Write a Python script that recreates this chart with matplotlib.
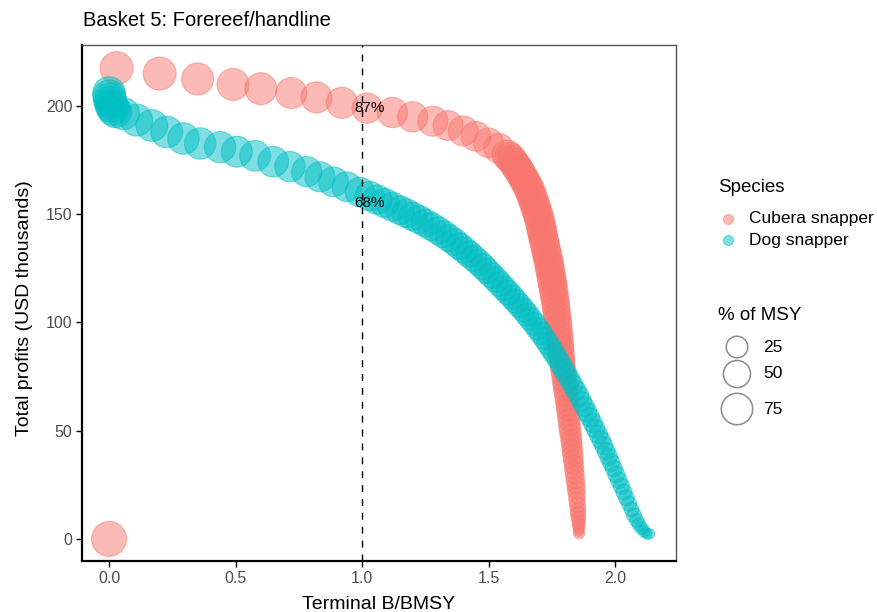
import matplotlib
matplotlib.use("Agg")
import matplotlib.pyplot as plt
import numpy as np

plt.rcParams['font.family'] = ['Liberation Sans', 'DejaVu Sans']

# Cubera snapper: terminal B/BMSY, total profits (USD thousands), % of MSY
cubera_b = [
    0.000, 0.030, 0.200, 0.350, 0.490, 0.600, 0.720, 0.820, 0.920, 1.020,
    1.120, 1.200, 1.280, 1.340, 1.400, 1.450, 1.500, 1.540,
    1.573, 1.583, 1.593, 1.601, 1.609, 1.617, 1.625, 1.632, 1.640, 1.648,
    1.656, 1.662, 1.668, 1.674, 1.680, 1.685, 1.690,
    1.695, 1.700, 1.704, 1.708, 1.712, 1.715, 1.719, 1.723, 1.727, 1.731,
    1.735, 1.739, 1.742, 1.745, 1.748, 1.751, 1.754, 1.757, 1.760, 1.763,
    1.766, 1.768, 1.771, 1.773, 1.776, 1.778, 1.781, 1.783, 1.785, 1.787,
    1.789, 1.791, 1.793, 1.795, 1.797, 1.799, 1.802, 1.804, 1.807, 1.809,
    1.812, 1.814, 1.816, 1.818, 1.820, 1.822, 1.825, 1.827, 1.829, 1.831,
    1.833, 1.835, 1.837, 1.839, 1.841, 1.843, 1.845, 1.847, 1.849, 1.850,
    1.852, 1.853, 1.854, 1.855, 1.856, 1.856, 1.857, 1.857, 1.858,
]
cubera_profit = [
    0.0, 217.5, 215.0, 212.5, 210.0, 208.0, 206.0, 204.0, 201.5, 199.0,
    197.0, 195.0, 193.0, 191.0, 188.5, 186.0, 183.0, 180.5,
    177.4, 176.3, 175.1, 173.7, 172.3, 170.9, 169.5, 167.9, 166.3, 164.6,
    163.0, 161.2, 159.4, 157.5, 155.7, 153.8, 152.0,
    150.2, 148.3, 146.2, 144.1, 142.0, 140.0, 137.9, 135.8, 133.7, 131.6,
    129.5, 127.5, 125.4, 123.3, 121.2, 119.2, 117.1, 115.0, 112.7, 110.4,
    108.1, 105.8, 103.5, 101.2, 98.9, 96.5, 94.2, 91.9, 89.6, 87.3,
    85.0, 82.7, 80.4, 78.1, 75.8, 73.4, 71.1, 68.8, 66.5, 64.2,
    61.9, 59.6, 57.3, 55.0, 52.7, 50.3, 48.0, 45.7, 43.4, 41.1,
    38.8, 36.5, 34.2, 31.9, 29.6, 27.3, 25.0, 22.6, 20.3, 18.0,
    15.7, 13.4, 11.5, 9.7, 8.1, 6.5, 5.1, 3.7, 2.5,
]
cubera_pct = [
    100, 86, 86, 79, 79, 79, 73, 73, 73, 68,
    68, 68, 67, 66, 66, 65, 65, 65,
    66, 66, 66, 66, 66, 66, 65, 65, 65, 65,
    65, 65, 65, 65, 64, 64, 64,
    64, 64, 63, 63, 62, 62, 61, 61, 60, 60,
    60, 59, 59, 59, 58, 58, 57, 56, 55, 54,
    53, 52, 51, 50, 49, 48, 46, 45, 44, 43,
    41, 40, 39, 38, 36, 35, 34, 33, 32, 31,
    30, 29, 28, 27, 26, 25, 24, 23, 22, 21,
    20, 19, 18, 17, 16, 15, 14, 13, 11, 10,
    9, 8, 7, 5, 4, 3, 2, 1, 1,
]

# Dog snapper
dog_b = [
    0.000, 0.001, 0.003, 0.006, 0.010, 0.016, 0.025,
    0.057, 0.109, 0.169, 0.228, 0.294, 0.360, 0.439, 0.505, 0.577, 0.649,
    0.715, 0.781, 0.834, 0.887, 0.940, 0.992,
    1.030, 1.060, 1.090, 1.120, 1.150, 1.175, 1.200, 1.225, 1.250, 1.275,
    1.300, 1.322, 1.344, 1.366, 1.385, 1.404, 1.423, 1.442, 1.460, 1.478,
    1.495, 1.512, 1.529, 1.545, 1.561, 1.577, 1.593, 1.608, 1.623, 1.638,
    1.652, 1.666, 1.680, 1.694, 1.708, 1.721, 1.734, 1.747, 1.760, 1.773,
    1.785, 1.797, 1.809, 1.821, 1.833, 1.845, 1.857, 1.868, 1.879, 1.890,
    1.901, 1.912, 1.923, 1.934, 1.945, 1.955, 1.965, 1.975, 1.985, 1.995,
    2.005, 2.015, 2.025, 2.035, 2.045, 2.055, 2.065, 2.075, 2.085, 2.095,
    2.105, 2.115, 2.125, 2.135,
]
dog_profit = [
    206.0, 204.5, 203.0, 201.5, 200.0, 198.6, 197.5,
    196.5, 193.5, 191.0, 188.0, 185.0, 182.7, 181.0, 178.9, 177.0, 174.3,
    172.0, 169.7, 167.3, 165.0, 162.7, 160.2,
    158.4, 156.8, 155.2, 153.5, 151.9, 150.5, 149.0, 147.6, 146.0, 144.3,
    142.5, 140.8, 139.0, 137.2, 135.3, 133.5, 131.6, 129.7, 127.8, 125.8,
    123.8, 121.8, 119.8, 117.8, 115.8, 113.8, 111.8, 109.8, 107.8, 105.8,
    103.7, 101.6, 99.4, 97.2, 95.0, 92.7, 90.4, 88.0, 85.6, 83.2,
    80.8, 78.4, 76.0, 73.6, 71.1, 68.6, 66.1, 63.6, 61.1, 58.6,
    56.1, 53.5, 50.9, 48.3, 45.7, 43.1, 40.5, 37.9, 35.2, 32.5,
    29.8, 27.1, 24.4, 21.7, 19.0, 16.3, 13.6, 11.0, 8.6, 6.6,
    5.0, 3.6, 2.5, 2.3,
]
dog_pct = [
    84, 84, 83, 83, 82, 82, 81,
    80, 79, 78, 77, 76, 75, 74, 72, 71, 70,
    69, 68, 67, 66, 65, 64,
    63, 62, 61, 60, 59, 58, 57, 56, 55, 54,
    53, 52, 51, 50, 49, 48, 47, 46, 45, 44,
    43, 42, 41, 40, 39, 38, 37, 36, 35, 34,
    33, 32, 31, 30, 29, 28, 28, 27, 26, 25,
    24, 24, 23, 22, 21, 21, 20, 19, 19, 18,
    17, 17, 16, 15, 15, 14, 13, 13, 12, 11,
    11, 10, 9, 9, 8, 7, 6, 6, 5, 4,
    3, 2, 1, 1,
]

species = ["Cubera snapper", "Dog snapper"]
colors = ["#F8766D", "#00BFC4"]
bmsy_labels = ["87%", "68%"]
bmsy_label_y = [199, 155]
legend_pcts = [25, 50, 75]


def pct_to_area(p):
    # marker diameter in px, then points^2 for scatter
    d = 8 + 27 * np.sqrt(np.asarray(p, dtype=float) / 100.0)
    return (d * 0.72) ** 2


fig = plt.figure(figsize=(8.78, 6.12), dpi=100)
ax = fig.add_axes([82 / 878, 1 - 561 / 612, 594 / 878, 516 / 612])

series = [(cubera_b, cubera_profit, cubera_pct), (dog_b, dog_profit, dog_pct)]
for (b, prof, pct), col in zip(series, colors):
    ax.scatter(b, prof, s=pct_to_area(pct), facecolor=col, edgecolor=col,
               alpha=0.5, linewidths=0.8, zorder=2)

ax.axvline(1.0, color="black", lw=1.0, ls=(0, (5, 5)), zorder=3)
for lab, yy in zip(bmsy_labels, bmsy_label_y):
    ax.text(1.03, yy, lab, ha="center", va="center", fontsize=11, zorder=4)

ax.set_xlim(-0.107, 2.241)
ax.set_ylim(-10.2, 228.2)
ax.set_xticks([0.0, 0.5, 1.0, 1.5, 2.0])
ax.set_xticklabels(["0.0", "0.5", "1.0", "1.5", "2.0"])
ax.set_yticks([0, 50, 100, 150, 200])
ax.tick_params(length=4, width=1.0, colors="black", labelcolor="#4D4D4D",
               labelsize=11.5, pad=3)
for side in ["left", "bottom"]:
    ax.spines[side].set_linewidth(1.6)
    ax.spines[side].set_color("black")
for side in ["top", "right"]:
    ax.spines[side].set_linewidth(1.0)
    ax.spines[side].set_color("#555555")

ax.set_xlabel("Terminal B/BMSY", fontsize=14)
ax.set_ylabel("Total profits (USD thousands)", fontsize=14)
ax.xaxis.set_label_coords(0.5, -0.068)
ax.yaxis.set_label_coords(-0.083, 0.49)

fig.text(83 / 878, 1 - 20 / 612, "Basket 5: Forereef/handline",
         fontsize=14.5, ha="left", va="center")

# legends drawn in pixel space on an overlay
lax = fig.add_axes([0, 0, 1, 1])
lax.set_xlim(0, 878)
lax.set_ylim(612, 0)
lax.axis("off")

lax.text(718, 188, "Species", fontsize=13.5, ha="left", va="center")
for i, (name, col) in enumerate(zip(species, colors)):
    yy = 219 + 21 * i
    lax.scatter([728], [yy], s=(10 * 0.72) ** 2, facecolor=col, edgecolor=col,
                alpha=0.5, linewidths=0.8)
    lax.text(749, yy, name, fontsize=12.5, ha="left", va="center")

lax.text(718, 316, "% of MSY", fontsize=13.5, ha="left", va="center")
for p, yy in zip(legend_pcts, [347, 374, 409]):
    lax.scatter([737], [yy], s=pct_to_area(p), facecolor="none",
                edgecolor="#8C8C8C", linewidths=1.1)
    lax.text(763, yy, str(p), fontsize=12.5, ha="left", va="center")

fig.savefig("out.png", dpi=100)
